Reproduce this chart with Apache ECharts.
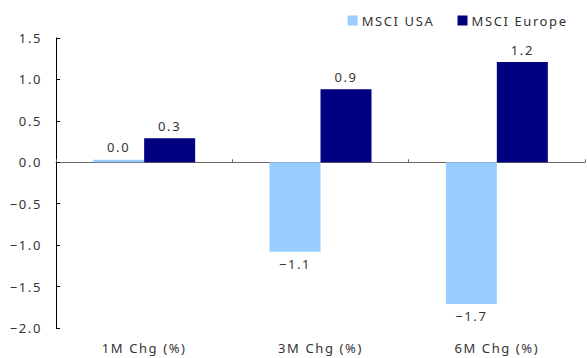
<!DOCTYPE html>
<html>
<head>
<meta charset="utf-8">
<script src="https://cdn.jsdelivr.net/npm/echarts@6/dist/echarts.min.js"></script>
<style>
  html, body { margin: 0; padding: 0; background: #fff; }
  #chart { width: 587px; height: 358px; }
  /* the original font is wide-set, so spread the letters a bit */
  #chart text { letter-spacing: 1.6px; }
</style>
</head>
<body>
<div id="chart"></div>
<script>
// chart data
var categories = ['1M Chg (%)', '3M Chg (%)', '6M Chg (%)'];
var usaValues = [0.03, -1.08, -1.71];
var europeValues = [0.29, 0.88, 1.21];
var seriesNames = ['MSCI USA', 'MSCI Europe'];

var FONT = '"Noto Sans", sans-serif';
var FS = 13;

function fmt(v) {
  var s = Math.abs(v).toFixed(1);
  return (v < 0 && s !== '0.0') ? '\u2212' + s : s;
}

// positive bars get the label on top, negative ones below
function toItems(arr) {
  return arr.map(function (v) {
    return { value: v, label: { position: v < 0 ? 'bottom' : 'top' } };
  });
}

var chart = echarts.init(document.getElementById('chart'), null, { renderer: 'svg' });
chart.setOption({
  animation: false,
  textStyle: { fontFamily: FONT },
  legend: {
    data: seriesNames,
    top: 9,
    right: 32,
    itemWidth: 10,
    itemHeight: 10,
    itemGap: 36,
    icon: 'rect',
    textStyle: { fontSize: FS, color: '#333', fontFamily: FONT, padding: [0, 0, 0, -1] }
  },
  grid: { left: 56, right: 2, top: 38, bottom: 30 },
  xAxis: [
    {
      type: 'category',
      data: categories,
      axisLine: { onZero: true, lineStyle: { color: '#666', width: 1 } },
      axisTick: { show: true, inside: true, length: 3, lineStyle: { color: '#666' } },
      axisLabel: { show: false }
    },
    {
      type: 'category',
      data: categories,
      position: 'bottom',
      axisLine: { show: false, onZero: false },
      axisTick: { show: false },
      axisLabel: { margin: 13, fontSize: FS, color: '#333', fontFamily: FONT }
    }
  ],
  yAxis: {
    type: 'value',
    min: -2.0,
    max: 1.5,
    interval: 0.5,
    splitLine: { show: false },
    axisLine: { show: true, lineStyle: { color: '#000', width: 1 } },
    axisTick: { show: true, inside: true, length: 4, lineStyle: { color: '#000' } },
    axisLabel: {
      margin: 14,
      fontSize: FS,
      color: '#333',
      fontFamily: FONT,
      formatter: function (v) { return fmt(v); }
    }
  },
  series: [
    {
      name: seriesNames[0],
      type: 'bar',
      xAxisIndex: 0,
      data: toItems(usaValues),
      barWidth: 51,
      barGap: '0%',
      itemStyle: { color: '#99CCFF' },
      label: {
        show: true, distance: 6, fontSize: FS, color: '#333', fontFamily: FONT,
        formatter: function (p) { return fmt(p.value); }
      }
    },
    {
      name: seriesNames[1],
      type: 'bar',
      xAxisIndex: 0,
      data: toItems(europeValues),
      barWidth: 51,
      barGap: '0%',
      itemStyle: { color: '#000080' },
      label: {
        show: true, distance: 6, fontSize: FS, color: '#333', fontFamily: FONT,
        formatter: function (p) { return fmt(p.value); }
      }
    }
  ]
});
</script>
</body>
</html>
